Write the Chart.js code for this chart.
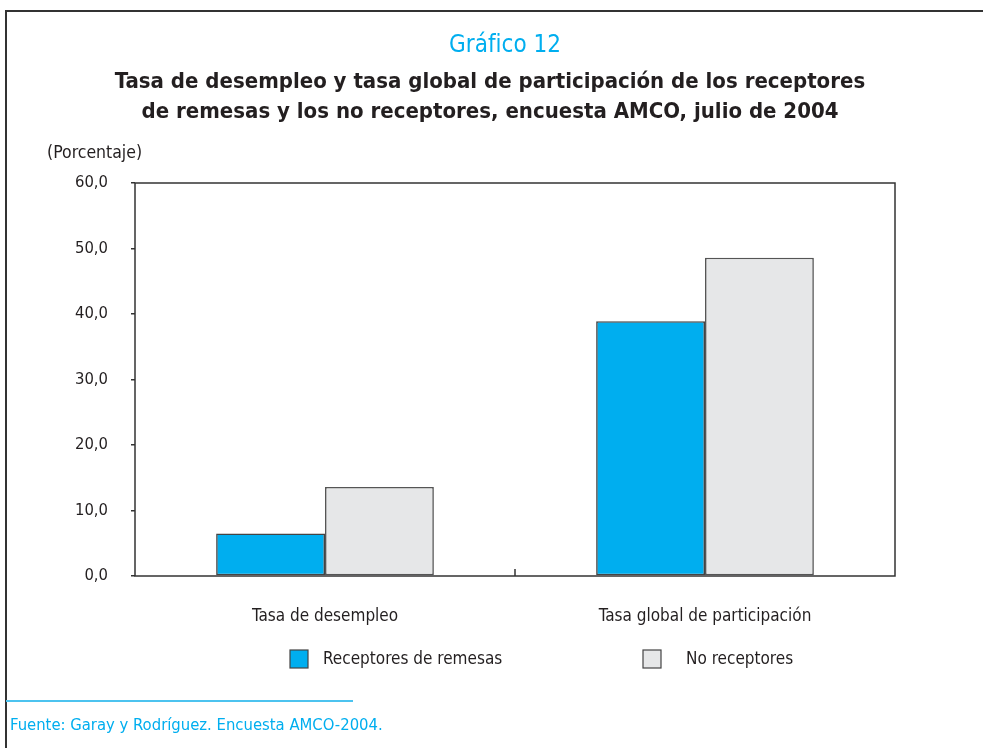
<!DOCTYPE html>
<html lang="es">
<head>
<meta charset="utf-8">
<title>Gráfico 12</title>
<script src="https://cdn.jsdelivr.net/npm/chart.js@4.4.1/dist/chart.umd.min.js"></script>
<style>
  html, body { margin: 0; padding: 0; background: #fff; }
  #page {
    position: relative; width: 983px; height: 748px; overflow: hidden;
    font-family: "Liberation Sans Narrow", "DejaVu Sans Condensed", sans-serif;
    color: #231f20;
  }
  #frame {
    position: absolute; left: 5px; top: 10px; width: 990px; height: 760px;
    border-left: 2px solid #333; border-top: 2px solid #333;
  }
  canvas { position: absolute; left: 0; top: 0; }
  .txt { position: absolute; white-space: nowrap; }
  #kicker { left: 0; width: 1010px; top: 30px; text-align: center; font-size: 24px; color: #00aeef; }
  #title  { left: 0; width: 980px; top: 66px; text-align: center; font-size: 22px; font-weight: bold; line-height: 30px; }
  #unit   { left: 47px; top: 142px; font-size: 17.5px; }
  #rule   { position: absolute; left: 6px; top: 700px; width: 347px; height: 2px; background: #4cc3ef; }
  #source { left: 10px; top: 715px; font-size: 16.5px; color: #00aeef; }
</style>
</head>
<body>
<div id="page">
  <div id="frame"></div>
  <canvas id="chart" width="983" height="748"></canvas>
  <div class="txt" id="kicker">Gráfico 12</div>
  <div class="txt" id="title">Tasa de desempleo y tasa global de participación de los receptores<br>de remesas y los no receptores, encuesta AMCO, julio de 2004</div>
  <div class="txt" id="unit">(Porcentaje)</div>
  <div id="rule"></div>
  <div class="txt" id="source">Fuente: Garay y Rodríguez. Encuesta AMCO-2004.</div>
</div>

<script>
// ── Data ─────────────────────────────────
const categories  = ['Tasa de desempleo', 'Tasa global de participación'];
const seriesNames = ['Receptores de remesas', 'No receptores'];
const receptores   = [6.5, 38.9];
const noReceptores = [13.6, 48.6];
const yTicks = [0, 10, 20, 30, 40, 50, 60];

const FONT = '"Liberation Sans Narrow", "DejaVu Sans Condensed", sans-serif';
const INK  = '#231f20';

// ── Box around plot, middle tick, legend ──
const framePlugin = {
  id: 'framePlugin',
  afterDatasetsDraw(chart) {
    const { ctx, chartArea: a, scales: { x } } = chart;
    ctx.save();
    ctx.strokeStyle = '#333';
    ctx.lineWidth = 1.5;
    ctx.strokeRect(a.left, a.top, a.right - a.left, a.bottom - a.top);

    // tick between the two categories
    const mid = (x.getPixelForValue(0) + x.getPixelForValue(1)) / 2;
    ctx.beginPath();
    ctx.moveTo(mid, a.bottom);
    ctx.lineTo(mid, a.bottom - 7);
    ctx.stroke();
    ctx.restore();
  },
  afterDraw(chart) {
    const { ctx } = chart;
    const spots = [{ box: 290, text: 323 }, { box: 643, text: 686 }];
    ctx.save();
    ctx.font = `17px ${FONT}`;
    ctx.textBaseline = 'middle';
    chart.data.datasets.forEach((ds, i) => {
      const p = spots[i];
      ctx.fillStyle = ds.backgroundColor;
      ctx.fillRect(p.box, 650, 18, 18);
      ctx.strokeStyle = '#444';
      ctx.lineWidth = 1.2;
      ctx.strokeRect(p.box, 650, 18, 18);
      ctx.fillStyle = INK;
      ctx.fillText(ds.label, p.text, 660);
    });
    ctx.restore();
  }
};

new Chart(document.getElementById('chart'), {
  type: 'bar',
  data: {
    labels: categories,
    datasets: [
      {
        label: seriesNames[0],
        data: receptores,
        backgroundColor: '#00aeef',
        borderColor: '#444',
        borderWidth: 1.6,
        borderSkipped: false
      },
      {
        label: seriesNames[1],
        data: noReceptores,
        backgroundColor: '#e6e7e8',
        borderColor: '#555',
        borderWidth: 1.6,
        borderSkipped: false
      }
    ]
  },
  options: {
    responsive: false,
    animation: false,
    events: [],
    layout: { padding: { left: 0, right: 88, top: 183, bottom: 112 } },
    datasets: { bar: { categoryPercentage: 0.573, barPercentage: 1.0 } },
    plugins: {
      legend: { display: false },
      tooltip: { enabled: false }
    },
    scales: {
      x: {
        grid: { display: false },
        border: { display: false },
        ticks: { color: INK, font: { family: FONT, size: 17 }, padding: 22 },
        afterFit: s => { s.height = 60; }
      },
      y: {
        min: 0,
        max: 60,
        afterBuildTicks: s => { s.ticks = yTicks.map(v => ({ value: v })); },
        grid: { drawOnChartArea: false, drawTicks: true, tickLength: 4, color: '#333', lineWidth: 1.5 },
        border: { display: false },
        ticks: {
          color: INK,
          font: { family: FONT, size: 16.5 },
          padding: 23,
          callback: v => v.toFixed(1).replace('.', ',')
        },
        afterFit: s => { s.width = 135; }
      }
    }
  },
  plugins: [framePlugin]
});
</script>
</body>
</html>
